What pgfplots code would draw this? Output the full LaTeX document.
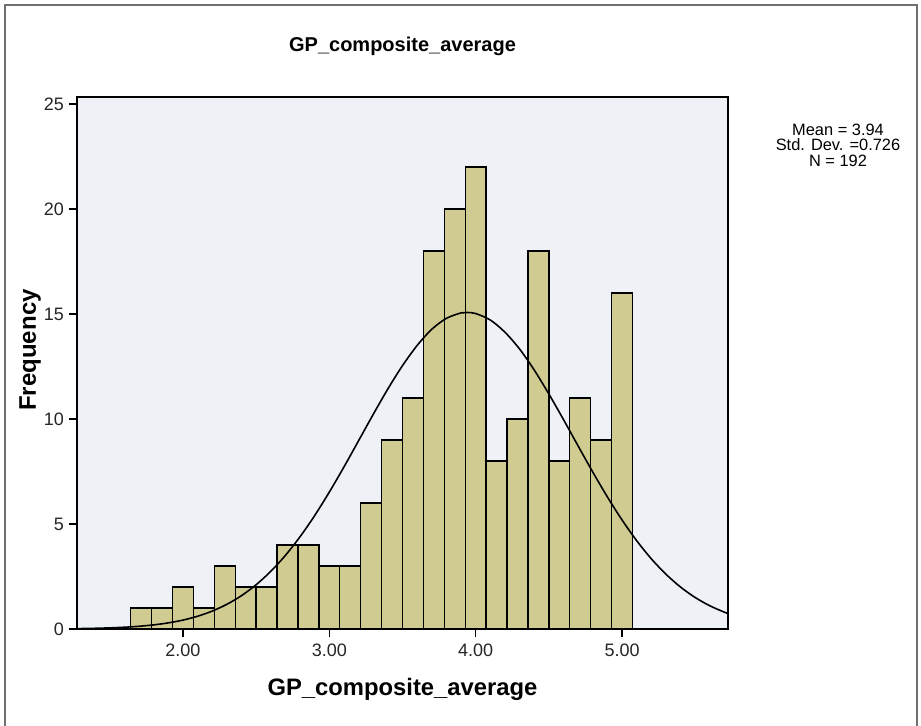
\documentclass[border=0pt]{standalone}
\usepackage{pgfplots}
\pgfplotsset{compat=1.18}
\usepackage{fontspec}
\setmainfont{Liberation Sans}
\definecolor{plotbg}{HTML}{EEF1F6}
\definecolor{barfill}{HTML}{D0CB90}
\definecolor{framegray}{HTML}{707070}

\begin{document}
\begin{tikzpicture}
% page = 921 x 726 px at 0.5pt per px
\useasboundingbox (0,0) rectangle (460.5pt,363pt);
\fill[white] (0,0) rectangle (460.5pt,363pt);
\draw[framegray, line width=1pt] (2.5pt,0) -- (2.5pt,360.5pt) -- (458.5pt,360.5pt) -- (458.5pt,0);

\begin{axis}[
  at={(38.5pt,48.5pt)}, anchor=south west,
  scale only axis, width=325.5pt, height=266pt,
  xmin=1.276, xmax=5.724, ymin=0, ymax=25.33,
  axis background/.style={fill=plotbg},
  axis line style={black, line width=0.75pt},
  xtick={2,3,4,5}, ytick={0,5,10,15,20,25},
  xticklabel style={/pgf/number format/.cd, fixed, fixed zerofill, precision=2},
  tick align=outside, xtick pos=bottom, ytick pos=left,
  major tick length=4pt,
  tick style={black, line width=0.6pt},
  ticklabel style={font=\fontsize{9}{10}\selectfont, text=black!85},
  yticklabel style={xshift=1pt},
  /pgf/number format/assume math mode=true,
  clip=true,
]
% histogram, bins of width 1/7 centred on k/7
\addplot[ybar, bar width=0.142857, bar shift=0pt, fill=barfill, draw=black, line width=0.7pt] coordinates {
  (1.7143,1) (1.8571,1) (2.0000,2) (2.1429,1) (2.2857,3) (2.4286,2)
  (2.5714,2) (2.7143,4) (2.8571,4) (3.0000,3) (3.1429,3) (3.2857,6)
  (3.4286,9) (3.5714,11) (3.7143,18) (3.8571,20) (4.0000,22) (4.1429,8)
  (4.2857,10) (4.4286,18) (4.5714,8) (4.7143,11) (4.8571,9) (5.0000,16)
};
% normal curve (mean 3.94, sd 0.726, N 192)
\addplot[black, line width=0.8pt, smooth] coordinates {
  (1.276,0.018) (1.3,0.020) (1.4,0.033) (1.5,0.053) (1.6,0.084) (1.7,0.129)
  (1.8,0.196) (1.9,0.291) (2.0,0.424) (2.1,0.607) (2.2,0.853) (2.3,1.175)
  (2.4,1.588) (2.5,2.108) (2.6,2.745) (2.7,3.505) (2.8,4.392) (2.9,5.401)
  (3.0,6.518) (3.1,7.716) (3.2,8.965) (3.3,10.22) (3.4,11.43) (3.5,12.54)
  (3.6,13.50) (3.7,14.27) (3.8,14.79) (3.9,15.05) (3.94,15.07) (4.0,15.02)
  (4.1,14.71) (4.2,14.13) (4.3,13.33) (4.4,12.33) (4.5,11.19) (4.6,9.969)
  (4.7,8.713) (4.8,7.472) (4.9,6.287) (5.0,5.190) (5.1,4.205) (5.2,3.342)
  (5.3,2.607) (5.4,1.995) (5.5,1.498) (5.6,1.104) (5.7,0.798) (5.724,0.736)
};
\end{axis}

\node[font=\bfseries\fontsize{10}{12}\selectfont] at (201.25pt,340pt) {GP\_composite\_average};
\node[font=\bfseries\fontsize{11.9}{13}\selectfont] at (201.25pt,18.5pt) {GP\_composite\_average};
\node[font=\bfseries\fontsize{12}{13}\selectfont, rotate=90] at (15pt,188pt) {Frequency};
\node[font=\fontsize{8.2}{7.8}\selectfont, align=center, inner sep=0pt] at (419pt,290.5pt)
  {Mean = 3.94\\Std. Dev. =0.726\\N = 192};
\end{tikzpicture}
\end{document}
